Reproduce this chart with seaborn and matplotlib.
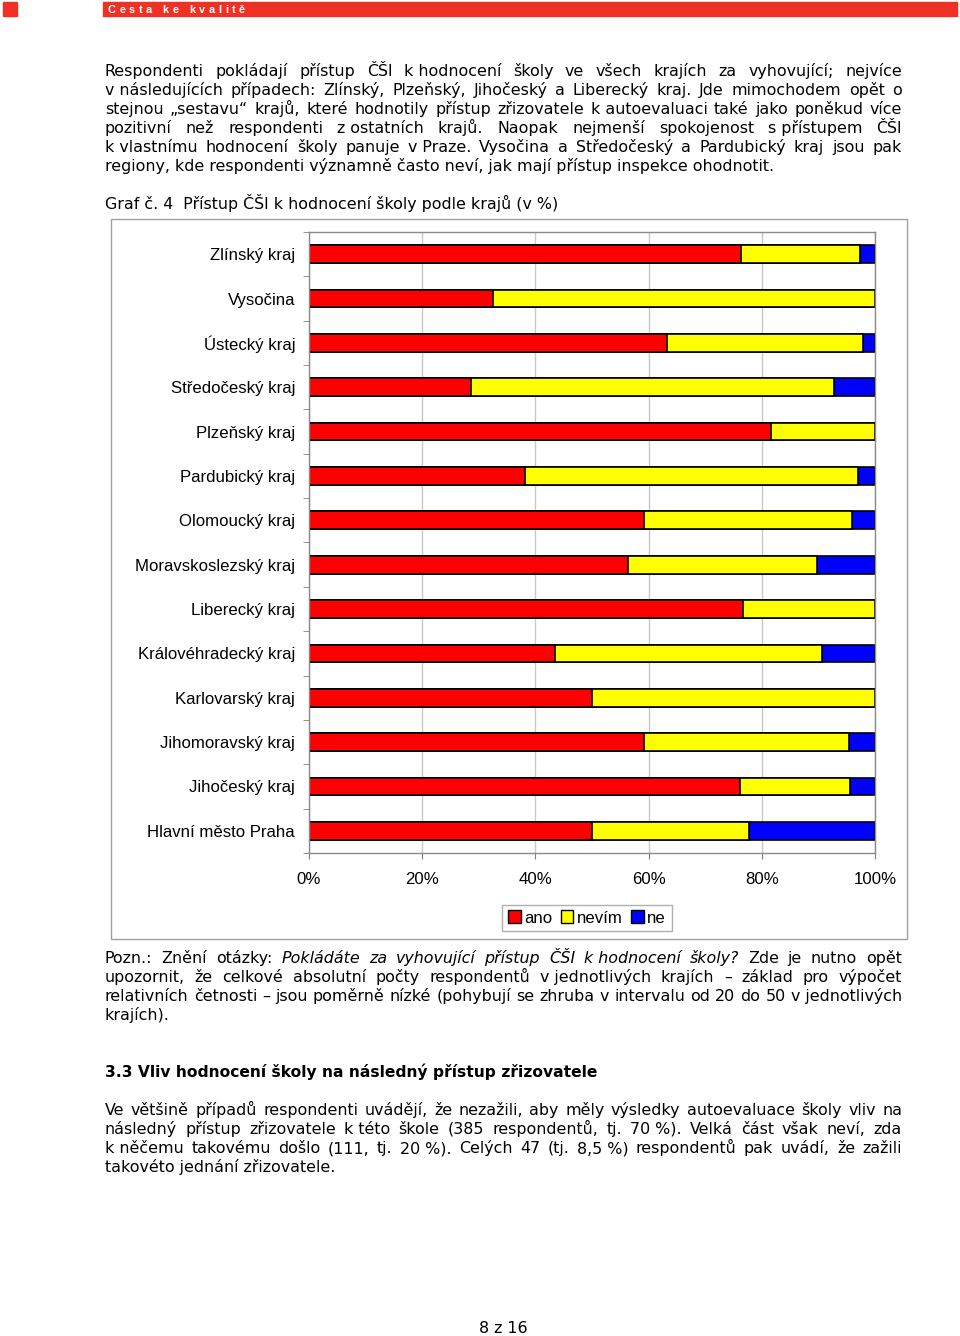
import numpy as np
import pandas as pd
import matplotlib
matplotlib.use("Agg")
import matplotlib.pyplot as plt
import seaborn as sns
from matplotlib.patches import Patch, Rectangle

# data (percent)
regions = ["Zlínský kraj", "Vysočina", "Ústecký kraj", "Středočeský kraj",
           "Plzeňský kraj", "Pardubický kraj", "Olomoucký kraj",
           "Moravskoslezský kraj", "Liberecký kraj", "Královéhradecký kraj",
           "Karlovarský kraj", "Jihomoravský kraj", "Jihočeský kraj",
           "Hlavní město Praha"]
ano = [76.3, 32.5, 63.3, 28.6, 81.6, 38.2, 59.2, 56.4, 76.7, 43.5, 50.0, 59.2, 76.2, 50.0]
nevim = [21.0, 67.5, 34.6, 64.2, 18.4, 58.8, 36.7, 33.3, 23.3, 47.1, 50.0, 36.2, 19.4, 27.7]
ne = [2.7, 0.0, 2.1, 7.2, 0.0, 3.0, 4.1, 10.3, 0.0, 9.4, 0.0, 4.6, 4.4, 22.3]
series = ["ano", "nevím", "ne"]
colors = ["#ff0000", "#ffff00", "#0000ff"]
xticks = [0, 20, 40, 60, 80, 100]

df = pd.DataFrame({"kraj": regions, "ano": ano, "nevim": nevim, "ne": ne})
df["c1"] = df["ano"]
df["c2"] = df["ano"] + df["nevim"]
df["c3"] = df["c2"] + df["ne"]

sns.set_style("white")
plt.rcParams["font.family"] = ["DejaVu Sans"]
plt.rcParams["text.color"] = "black"
plt.rcParams["xtick.labelcolor"] = "black"
plt.rcParams["ytick.labelcolor"] = "black"

W, H = 960, 1336
fig = plt.figure(figsize=(W / 100, H / 100), dpi=100)
renderer = fig.canvas.get_renderer()
BODY = 11.4
CHART = 12.1


def fx(x):
    return x / W


def fy(y):
    return 1 - y / H


def line(text, y, x0=105, x1=902, justify=True, size=BODY, weight="normal"):
    words = text.split(" ")
    items = []
    for w in words:
        style = "normal"
        if w.startswith("_"):
            w = w[1:]
            style = "italic"
        w = w.replace("~", " ")
        t = fig.text(0, 0, w, fontsize=size, fontstyle=style, fontweight=weight,
                     va="baseline", ha="left")
        items.append((t, t.get_window_extent(renderer).width))
    total = sum(wd for _, wd in items)
    if justify and len(items) > 1:
        gap = (x1 - x0 - total) / (len(items) - 1)
    else:
        gap = size / 0.72 * 0.32
    x = x0
    for t, wd in items:
        t.set_position((fx(x), fy(y)))
        x += wd + gap


# header bar
fig.patches.append(Rectangle((fx(3), fy(16)), 14 / W, 14 / H, transform=fig.transFigure,
                             color="#ee3124", zorder=0))
fig.patches.append(Rectangle((fx(103), fy(16)), 854 / W, 14 / H, transform=fig.transFigure,
                             color="#ee3124", zorder=0))
x = 108
for ch in "Cesta ke kvalitě":
    t = fig.text(fx(x), fy(13), ch, color="white", fontsize=7.8, fontweight="bold",
                 family="Liberation Sans", va="baseline")
    x += t.get_window_extent(renderer).width + 3.6 if ch != " " else 7

para1 = [
    "Respondenti pokládají přístup ČŠI k~hodnocení školy ve všech krajích za vyhovující; nejvíce",
    "v~následujících případech: Zlínský, Plzeňský, Jihočeský a Liberecký kraj. Jde mimochodem opět o",
    "stejnou „sestavu“ krajů, které hodnotily přístup zřizovatele k~autoevaluaci také jako poněkud více",
    "pozitivní než respondenti z~ostatních krajů. Naopak nejmenší spokojenost s~přístupem ČŠI",
    "k~vlastnímu hodnocení školy panuje v~Praze. Vysočina a Středočeský a Pardubický kraj jsou pak",
]
for i, s in enumerate(para1):
    line(s, 76 + 19 * i)
fig.text(fx(105), fy(76 + 19 * 5),
         "regiony, kde respondenti významně často neví, jak mají přístup inspekce ohodnotit.",
         fontsize=BODY, va="baseline")
fig.text(fx(105), fy(209), "Graf č. 4  Přístup ČŠI k hodnocení školy podle krajů (v %)",
         fontsize=BODY, va="baseline")

# chart frame
fig.patches.append(Rectangle((fx(111), fy(939)), 796 / W, 720 / H, transform=fig.transFigure,
                             facecolor="none", edgecolor="#a0a0a0", lw=1, zorder=0))

ax = fig.add_axes([fx(309), fy(853), (875 - 309) / W, (853 - 232) / H])
for col, c in zip(["c3", "c2", "c1"], colors[::-1]):
    sns.barplot(data=df, x=col, y="kraj", order=regions, orient="h", color=c,
                saturation=1, width=0.4, edgecolor="black", linewidth=1.2, ax=ax)

ax.set_xlim(0, 100)
ax.set_ylim(len(regions) - 0.5, -0.5)
ax.set_xticks(xticks)
ax.set_xticklabels([f"{v}%" for v in xticks], family="Liberation Sans", fontsize=CHART)
ax.set_yticks(range(len(regions)))
ax.set_yticklabels(regions, family="Liberation Sans", fontsize=CHART)
ax.set_yticks(np.arange(-0.5, len(regions), 1), minor=True)
ax.tick_params(axis="y", which="major", length=0, pad=10)
ax.tick_params(axis="y", which="minor", length=4, color="#808080", direction="out", left=True)
ax.tick_params(axis="x", which="major", length=4, color="#808080", direction="out",
               bottom=True, pad=10)
ax.set_xlabel("")
ax.set_ylabel("")
ax.xaxis.grid(True, color="#c8c8c8", lw=1)
ax.set_axisbelow(True)
for sp in ax.spines.values():
    sp.set_visible(True)
    sp.set_color("#8a8a8a")
    sp.set_linewidth(1)

handles = [Patch(facecolor=c, edgecolor="black", lw=1) for c in colors]
fig.legend(handles, series, loc="center", bbox_to_anchor=(fx(587), fy(918)), ncol=3,
           frameon=True, fancybox=False, edgecolor="#b0b0b0", framealpha=1,
           handlelength=0.75, handleheight=0.75, handletextpad=0.2, columnspacing=0.5,
           borderpad=0.35, prop={"family": "Liberation Sans", "size": CHART})

# note and following section
pozn = [
    "Pozn.: Znění otázky: _Pokládáte _za _vyhovující _přístup _ČŠI _k~hodnocení _školy? Zde je nutno opět",
    "upozornit, že celkové absolutní počty respondentů v~jednotlivých krajích – základ pro výpočet",
    "relativních četnosti – jsou poměrně nízké (pohybují se zhruba v intervalu od 20 do 50 v~jednotlivých",
]
for i, s in enumerate(pozn):
    line(s, 963 + 19 * i)
fig.text(fx(105), fy(963 + 19 * 3), "krajích).", fontsize=BODY, va="baseline")

fig.text(fx(105), fy(1077), "3.3 Vliv hodnocení školy na následný přístup zřizovatele",
         fontsize=11.2, fontweight="bold", va="baseline")

para2 = [
    "Ve většině případů respondenti uvádějí, že nezažili, aby měly výsledky autoevaluace školy vliv na",
    "následný přístup zřizovatele k~této škole (385 respondentů, tj. 70~%). Velká část však neví, zda",
    "k~něčemu takovému došlo (111, tj. 20~%). Celých 47 (tj. 8,5~%) respondentů pak uvádí, že zažili",
]
for i, s in enumerate(para2):
    line(s, 1115 + 19 * i)
fig.text(fx(105), fy(1115 + 19 * 3), "takovéto jednání zřizovatele.", fontsize=BODY,
         va="baseline")

fig.text(fx(503), fy(1333), "8 z 16", fontsize=BODY, ha="center", va="baseline")

fig.savefig("out.png", dpi=100)
